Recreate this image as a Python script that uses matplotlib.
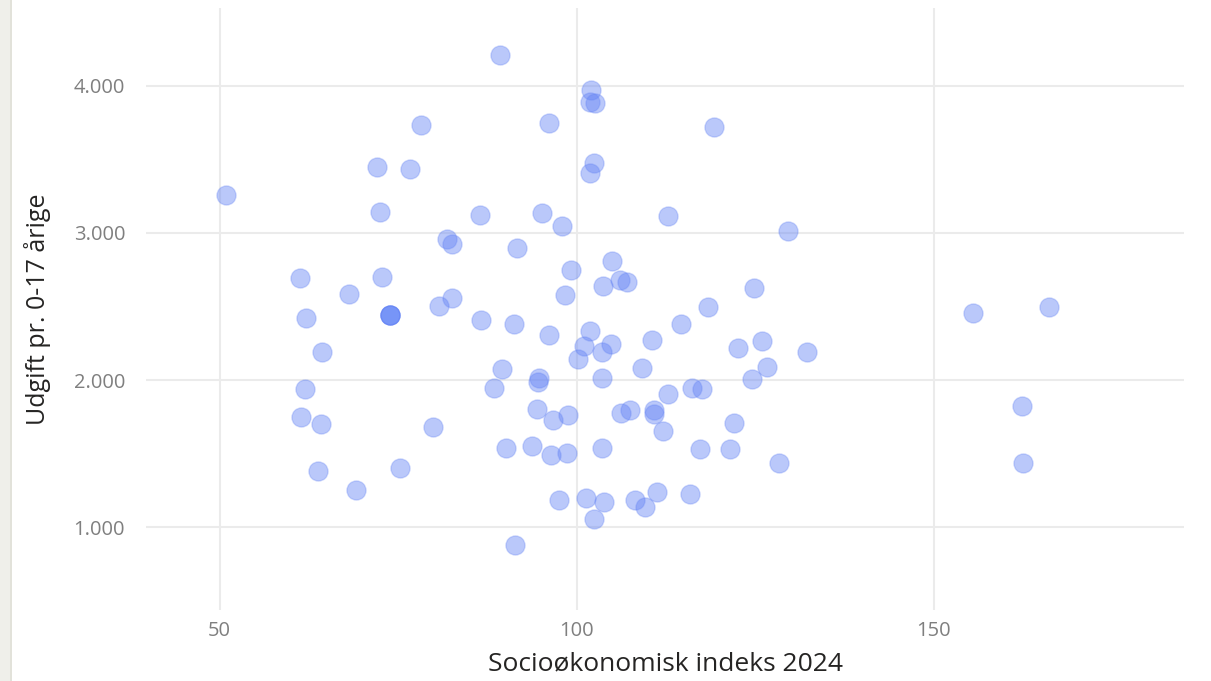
import numpy as np
import matplotlib
matplotlib.use('Agg')
from matplotlib import pyplot as plt
from matplotlib.ticker import FuncFormatter
from matplotlib.patches import Rectangle

# socioeconomic index 2024 per municipality
x_index = [50.9, 61.2, 62.1, 61.9, 61.4, 64.3, 64.2, 63.8, 68.1, 69.1,
	72.0, 72.4, 72.8, 73.9, 75.3, 76.7, 78.2, 79.9, 80.7, 81.8,
	82.5, 82.5, 86.4, 86.6, 89.3, 89.6, 88.4, 90.1, 91.2, 91.7,
	91.4, 93.8, 94.5, 94.7, 94.6, 95.2, 96.1, 96.1, 96.7, 96.4,
	97.5, 97.9, 98.4, 98.6, 98.8, 99.2, 100.2, 101.0, 101.3, 101.9,
	102.0, 101.8, 102.6, 102.4, 101.9, 102.4, 103.6, 103.7, 103.6, 103.6,
	103.8, 104.8, 105.0, 106.1, 107.1, 106.2, 107.5, 108.2, 109.1, 109.6,
	110.5, 110.8, 110.8, 111.2, 112.1, 112.7, 112.7, 114.6, 115.8, 116.1,
	117.5, 117.2, 118.4, 119.2, 121.4, 122.0, 122.6, 124.5, 124.8, 125.9,
	126.6, 128.3, 129.6, 132.2, 155.5, 166.1, 162.3, 162.5]

# spending per 0-17 year old
y_udgift = [3257, 2693, 2422, 1940, 1749, 2191, 1702, 1382, 2585, 1253,
	3448, 3142, 2700, 2442, 1403, 3434, 3733, 1681, 2503, 2958,
	2924, 2558, 3121, 2408, 4208, 2075, 1946, 1539, 2381, 2897,
	880, 1552, 1804, 2014, 1987, 3135, 3746, 2306, 1729, 1491,
	1185, 3047, 2578, 1505, 1763, 2748, 2143, 2232, 1199, 2333,
	3971, 3890, 3885, 3475, 3407, 1056, 2191, 2639, 2014, 1539,
	1172, 2245, 2809, 2680, 2666, 1776, 1797, 1185, 2082, 1138,
	2272, 1797, 1770, 1240, 1654, 3115, 1905, 2381, 1226, 1946,
	1939, 1532, 2497, 3719, 1532, 1709, 2218, 2007, 2626, 2266,
	2089, 1437, 3013, 2191, 2456, 2497, 1824, 1437]

highlight_idx = 13

x_ticks = [50, 100, 150]
y_ticks = [1000, 2000, 3000, 4000]


def dk_thousands(v, pos):
	return '{:,.0f}'.format(v).replace(',', '.')


def main():
	plt.rcParams['font.family'] = ['Open Sans', 'DejaVu Sans']
	fig = plt.figure(figsize=(12.11, 6.81), dpi=100)
	fig.patch.set_facecolor('white')

	# grey strip at the left edge
	fig.patches.append(Rectangle((0, 0), 11 / 1211, 1, transform=fig.transFigure,
		facecolor='#efefea', edgecolor='none', zorder=0))
	fig.patches.append(Rectangle((10.5 / 1211, 0), 1.5 / 1211, 1, transform=fig.transFigure,
		facecolor='#e2e2da', edgecolor='none', zorder=0))

	ax = fig.add_axes([146 / 1211, 1 - 610 / 681, 1038 / 1211, 602 / 681])

	xs = np.array(x_index)
	ys = np.array(y_udgift)
	mask = np.ones(len(xs), dtype=bool)
	mask[highlight_idx] = False

	base = (0.40, 0.52, 0.96)
	ax.scatter(xs[mask], ys[mask], s=190, facecolor=base + (0.45,),
		edgecolor=base + (0.30,), linewidth=1.0, zorder=3)
	ax.scatter(xs[~mask], ys[~mask], s=190, facecolor=(0.42, 0.55, 0.97, 0.92),
		edgecolor=base + (0.95,), linewidth=1.0, zorder=4)

	ax.set_xlim(39.7, 185)
	ax.set_ylim(438, 4528)
	ax.set_xticks(x_ticks)
	ax.set_yticks(y_ticks)
	ax.yaxis.set_major_formatter(FuncFormatter(dk_thousands))

	ax.grid(True, color='#ebebeb', linewidth=1.5, zorder=0)
	ax.set_axisbelow(True)
	for sp in ax.spines.values():
		sp.set_visible(False)
	ax.tick_params(axis='both', length=0, labelsize=14.5, labelcolor='#7f7f7f')
	ax.tick_params(axis='y', pad=15)
	ax.tick_params(axis='x', pad=8)

	fig.text(665 / 1211, 1 - 664 / 681, 'Socioøkonomisk indeks 2024',
		ha='center', va='center', fontsize=19, color='#252423')
	fig.text(38 / 1211, 1 - 309 / 681, 'Udgift pr. 0-17 årige', rotation=90,
		ha='center', va='center', fontsize=18, color='#252423')

	fig.savefig('out.png', dpi=100)


if __name__ == "__main__":
	main()
